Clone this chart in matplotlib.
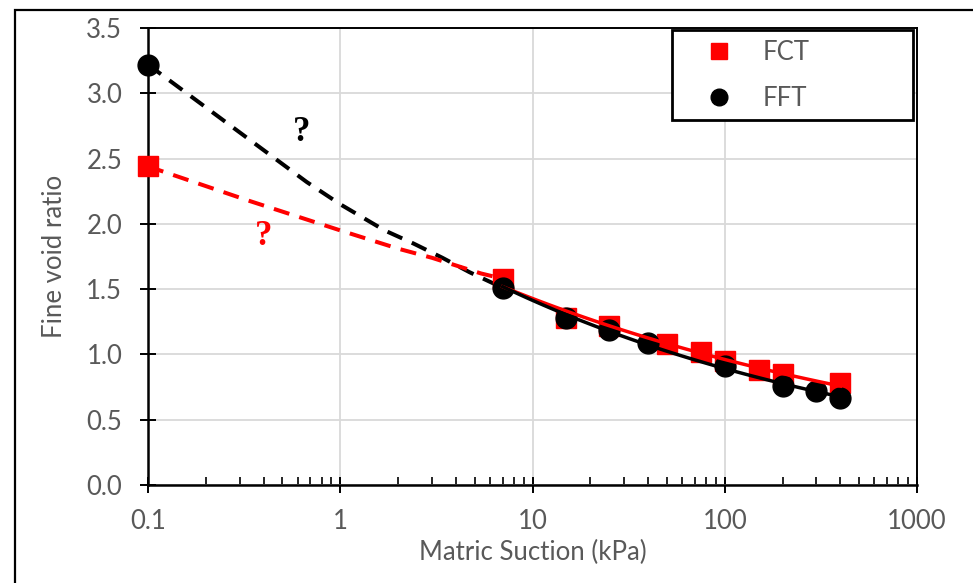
import numpy as np
import matplotlib
matplotlib.use('Agg')
import matplotlib.pyplot as plt
from matplotlib.ticker import LogLocator, FixedLocator, NullFormatter
from matplotlib.patches import Rectangle
from matplotlib.lines import Line2D

# measured points
fct_suction = [0.1, 7, 15, 25, 50, 75, 100, 150, 200, 400]
fct_void = [2.44, 1.58, 1.28, 1.22, 1.08, 1.02, 0.95, 0.88, 0.85, 0.78]
fft_suction = [0.1, 7, 15, 25, 40, 100, 200, 300, 400]
fft_void = [3.22, 1.51, 1.28, 1.19, 1.09, 0.91, 0.76, 0.72, 0.67]

# uncertain extrapolation between the slurry point and the first SWCC point
fct_guess_x = [0.1, 0.33, 1, 2, 3, 5.4, 7]
fct_guess_y = [2.44, 2.18, 1.95, 1.81, 1.74, 1.62, 1.58]
fft_guess_x = [0.1, 0.67, 1, 1.7, 2.4, 3.4, 4.7, 7]
fft_guess_y = [3.22, 2.32, 2.15, 1.95, 1.85, 1.74, 1.63, 1.51]

x_ticks = [0.1, 1, 10, 100, 1000]
x_ticklabels = ['0.1', '1', '10', '100', '1000']
y_ticks = [0.0, 0.5, 1.0, 1.5, 2.0, 2.5, 3.0, 3.5]

grey_txt = '#595959'
fs = 18.5
plt.rcParams['font.family'] = ['Lato', 'DejaVu Sans']

fig = plt.figure(figsize=(9.73, 5.83), dpi=100)
ax = fig.add_axes([148 / 973, 98 / 583, 769 / 973, 457 / 583])

# outer frame (only left and top edges fall inside the image)
fig.patches.append(Rectangle((15 / 973, -0.1), 1.2, 1.1 - 10 / 583, transform=fig.transFigure,
                             fill=False, edgecolor='black', linewidth=1.6))


def power_fit(x, y):
    # Excel-style power trendline through the SWCC points (x >= 7 kPa)
    x = np.asarray(x, dtype=float)
    y = np.asarray(y, dtype=float)
    keep = x >= 7
    b, log_a = np.polyfit(np.log(x[keep]), np.log(y[keep]), 1)
    xs = np.geomspace(x[keep].min(), x[keep].max(), 60)
    return xs, np.exp(log_a) * xs ** b


ax.plot(fct_suction, fct_void, 's', color='red', markersize=15, clip_on=False, zorder=3)
ax.plot(fft_suction, fft_void, 'o', color='black', markersize=15, clip_on=False, zorder=3)

xs, ys = power_fit(fct_suction, fct_void)
ax.plot(xs, ys, color='red', linewidth=2.5, zorder=4)
xs, ys = power_fit(fft_suction, fft_void)
ax.plot(xs, ys, color='black', linewidth=2.5, zorder=4)

ax.plot(fft_guess_x, fft_guess_y, color='black', linewidth=2.9, dashes=(4.0, 2.6), zorder=2)
ax.plot(fct_guess_x, fct_guess_y, color='red', linewidth=2.9, dashes=(4.0, 2.6), zorder=2)

ax.text(0.63, 2.70, '?', family=['Liberation Serif', 'DejaVu Serif'], fontweight='bold',
        fontsize=25, color='black', ha='center', va='center')
ax.text(0.40, 1.90, '?', family=['Liberation Serif', 'DejaVu Serif'], fontweight='bold',
        fontsize=25, color='red', ha='center', va='center')

ax.set_xscale('log')
ax.set_xlim(0.1, 1000)
ax.set_ylim(0, 3.5)
ax.xaxis.set_major_locator(FixedLocator(x_ticks))
ax.set_xticklabels(x_ticklabels)
ax.xaxis.set_minor_locator(LogLocator(base=10, subs=np.arange(2, 10)))
ax.xaxis.set_minor_formatter(NullFormatter())
ax.set_yticks(y_ticks)
ax.set_yticklabels([f'{v:.1f}' for v in y_ticks])

ax.grid(which='major', color='#d9d9d9', linewidth=1.3)
ax.set_axisbelow(True)

ax.tick_params(axis='both', which='major', direction='inout', length=11, width=1.4,
               colors='black', labelcolor=grey_txt, labelsize=fs)
ax.tick_params(axis='x', which='major', pad=12)
ax.tick_params(axis='y', which='major', pad=13)
ax.tick_params(axis='x', which='minor', direction='in', length=6, width=1.2, colors='black')

for side in ['left', 'bottom']:
    ax.spines[side].set_linewidth(1.8)
for side in ['top', 'right']:
    ax.spines[side].set_linewidth(1.4)

ax.set_xlabel('Matric Suction (kPa)', color=grey_txt, fontsize=fs, labelpad=4)
ax.set_ylabel('Fine void ratio', color=grey_txt, fontsize=fs, labelpad=14)

handles = [Line2D([], [], marker='s', color='red', linestyle='', markersize=12),
           Line2D([], [], marker='o', color='black', linestyle='', markersize=12)]
leg = ax.legend(handles, ['FCT', 'FFT'], loc='upper left',
                bbox_to_anchor=((672 - 148) / 769, 0, 241 / 769, 0.996), mode='expand',
                fontsize=fs, frameon=True, fancybox=False, labelspacing=0.82,
                borderpad=0.38, handletextpad=0.27, borderaxespad=0, handlelength=2.88)
leg.get_frame().set_edgecolor('black')
leg.get_frame().set_linewidth(2.0)
leg.get_frame().set_alpha(1)
for t in leg.get_texts():
    t.set_color(grey_txt)
leg.set_zorder(6)

fig.savefig('out.png', dpi=100)
